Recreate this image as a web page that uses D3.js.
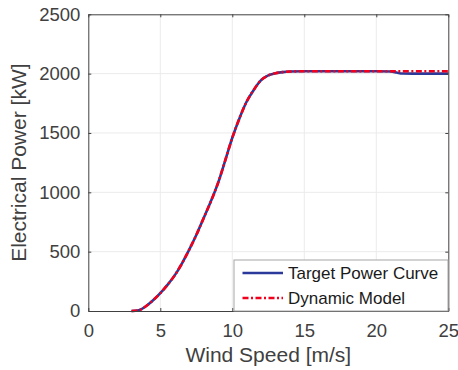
<!DOCTYPE html>
<meta charset="utf-8">
<style>
    body {
        margin: 0;
        font-family: "Liberation Sans", Arial, Helvetica, sans-serif;
        background: #fff;
    }

    .grid line {
        stroke: #ebebeb;
        stroke-width: 1px;
    }

    .axis text {
        fill: #404040;
        font-size: 18.5px;
    }

    .axis path,
    .axis line {
        stroke: #404040;
    }

    .label {
        fill: #404040;
        font-size: 21px;
    }

    .legend text {
        fill: #1a1a1a;
        font-size: 17px;
    }
</style>

<body>
    <script src="https://d3js.org/d3.v7.min.js"></script>
    <script>
        // Wind speed [m/s] and power [kW]
        var windSpeed = [3, 3.5, 4, 4.5, 5, 5.5, 6, 6.5, 7, 7.5, 8, 8.5, 9, 9.5, 10, 10.5, 11, 11.5, 12, 12.5, 13, 13.5, 14, 15, 16, 17, 18, 19, 20, 21, 21.4, 21.8, 22.5, 25];
        var targetPower = [0, 6, 40, 90, 150, 220, 300, 400, 515, 640, 780, 920, 1075, 1265, 1460, 1625, 1765, 1865, 1945, 1985, 2003, 2013, 2018, 2020, 2020, 2020, 2020, 2020, 2020, 2018, 2010, 2001, 2000, 2000];
        var dynamicPower = [0, 6, 40, 90, 150, 220, 300, 400, 515, 640, 780, 920, 1075, 1265, 1460, 1625, 1765, 1865, 1945, 1985, 2003, 2013, 2018, 2020, 2020, 2020, 2020, 2020, 2020, 2020, 2020, 2020, 2020, 2020];

        var xTicks = [0, 5, 10, 15, 20, 25];
        var yTicks = [0, 500, 1000, 1500, 2000, 2500];

        var seriesNames = ["Target Power Curve", "Dynamic Model"];
        var seriesColors = ["#2b3a9a", "#f0001c"];

        var width = 458,
            height = 370;
        var margin = {
            top: 14.3,
            right: 9.7,
            bottom: 59,
            left: 88.3
        };
        var w = width - margin.left - margin.right,
            h = height - margin.top - margin.bottom;

        var svg = d3.select("body").append("svg")
            .attr("width", width)
            .attr("height", height);

        var g = svg.append("g")
            .attr("transform", "translate(" + margin.left + "," + margin.top + ")");

        var x = d3.scaleLinear().domain([0, 25]).range([0, w]);
        var y = d3.scaleLinear().domain([0, 2500]).range([h, 0]);

        // grid
        g.append("g").attr("class", "grid")
            .selectAll("line").data(xTicks.slice(1, -1)).enter().append("line")
            .attr("x1", x).attr("x2", x).attr("y1", 0).attr("y2", h);
        g.append("g").attr("class", "grid")
            .selectAll("line").data(yTicks.slice(1, -1)).enter().append("line")
            .attr("y1", y).attr("y2", y).attr("x1", 0).attr("x2", w);

        // lines
        var line = d3.line()
            .x(function (d) { return x(d[0]); })
            .y(function (d) { return y(d[1]); })
            .curve(d3.curveMonotoneX);

        g.append("path")
            .datum(d3.zip(windSpeed, targetPower))
            .attr("fill", "none")
            .attr("stroke", seriesColors[0])
            .attr("stroke-width", 2.6)
            .attr("d", line);

        g.append("path")
            .datum(d3.zip(windSpeed, dynamicPower))
            .attr("fill", "none")
            .attr("stroke", seriesColors[1])
            .attr("stroke-width", 2.6)
            .attr("stroke-dasharray", "6,2.5,2,2.5")
            .attr("d", line);

        // axes, ticks pointing inward
        var fmt = d3.format("d");
        g.append("g").attr("class", "axis")
            .attr("transform", "translate(0," + h + ")")
            .call(d3.axisBottom(x).tickValues(xTicks).tickFormat(fmt).tickSizeInner(-3).tickSizeOuter(0).tickPadding(13))
            .selectAll("text").attr("dy", "0.71em");
        g.append("g").attr("class", "axis")
            .call(d3.axisLeft(y).tickValues(yTicks).tickFormat(fmt).tickSizeInner(-3).tickSizeOuter(0).tickPadding(8));
        g.append("g").attr("class", "axis")
            .call(d3.axisTop(x).tickValues(xTicks).tickSizeInner(-3).tickSizeOuter(0).tickFormat(""));
        g.append("g").attr("class", "axis")
            .attr("transform", "translate(" + w + ",0)")
            .call(d3.axisRight(y).tickValues(yTicks).tickSizeInner(-3).tickSizeOuter(0).tickFormat(""));

        // axis labels
        svg.append("text").attr("class", "label")
            .attr("x", margin.left + w / 2).attr("y", 362)
            .attr("text-anchor", "middle")
            .text("Wind Speed [m/s]");
        svg.append("text").attr("class", "label")
            .attr("transform", "translate(26," + (margin.top + h / 2) + ") rotate(-90)")
            .attr("text-anchor", "middle")
            .text("Electrical Power [kW]");

        // legend
        var legend = svg.append("g").attr("class", "legend")
            .attr("transform", "translate(234,260)");
        legend.append("rect")
            .attr("width", 214).attr("height", 51)
            .attr("fill", "#fff").attr("stroke", "#a6a6a6").attr("stroke-width", 1);
        seriesNames.forEach(function (name, i) {
            var ly = 13 + i * 25;
            legend.append("line")
                .attr("x1", 8.5).attr("x2", 49).attr("y1", ly).attr("y2", ly)
                .attr("stroke", seriesColors[i]).attr("stroke-width", 2.6)
                .attr("stroke-dasharray", i == 1 ? "6,2.5,2,2.5" : null);
            legend.append("text")
                .attr("x", 54).attr("y", ly).attr("dy", "0.35em")
                .text(name);
        });
    </script>
</body>
